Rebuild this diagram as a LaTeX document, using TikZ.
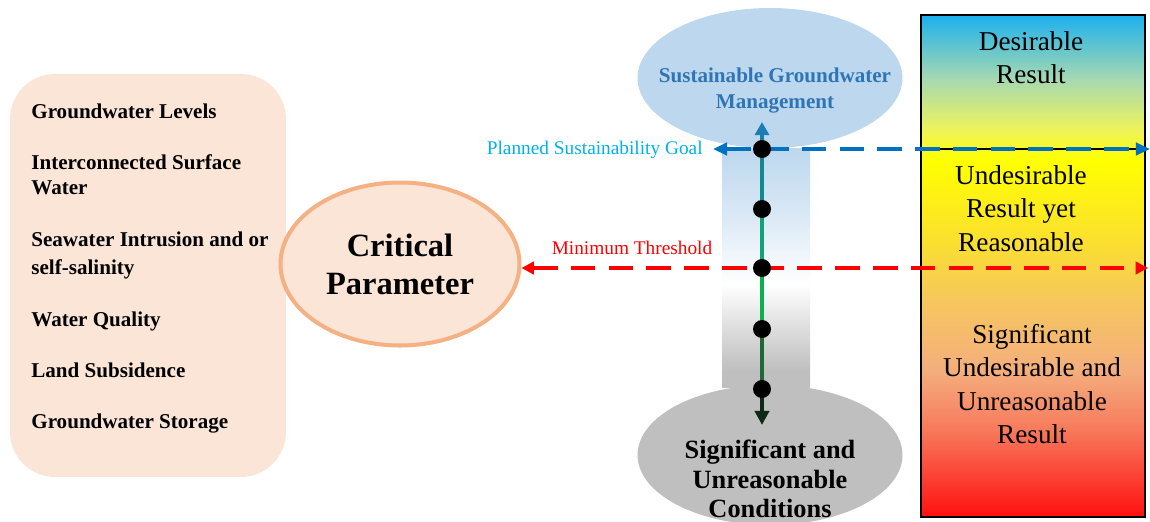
\documentclass[tikz,border=0pt]{standalone}
\usepackage{fontspec}
\setmainfont{Liberation Serif}
\usetikzlibrary{arrows.meta,shapes.geometric,positioning}
\definecolor{peach}{HTML}{FBE5D6}
\definecolor{peachline}{HTML}{F4B183}
\definecolor{skyfill}{HTML}{BDD7EE}
\definecolor{skypale}{HTML}{DCEAF6}
\definecolor{skytext}{HTML}{2E75B6}
\definecolor{goalblue}{HTML}{0070C0}
\definecolor{goaltext}{HTML}{00B0F0}
\definecolor{greyfill}{HTML}{BFBFBF}
\definecolor{greypale}{HTML}{D9D9D9}
% colour stops of the result bar
\definecolor{barcyan}{HTML}{1CB0EE}
\definecolor{barmint}{HTML}{A8DAB0}
\definecolor{barlime}{HTML}{EEF45A}
\definecolor{baryellow}{HTML}{FFFF00}
\definecolor{bargold}{HTML}{FBE02E}
\definecolor{barorange}{HTML}{F6C75C}
\definecolor{barsalmon}{HTML}{F4AE7E}
\definecolor{barcoral}{HTML}{F77A5C}
\definecolor{barred}{HTML}{FF1010}
% colours along the arrow
\definecolor{arrtop}{HTML}{1C7DB3}
\definecolor{arrA}{HTML}{0F8A8E}
\definecolor{arrB}{HTML}{10A27A}
\definecolor{arrC}{HTML}{0DB04E}
\definecolor{arrD}{HTML}{1D6A38}
\definecolor{arrbot}{HTML}{0D2A17}
\pgfdeclareverticalshading{resultbar}{100bp}{color(0bp)=(barred); color(25bp)=(barred); color(33.7bp)=(barcoral); color(39.6bp)=(barsalmon); color(46.6bp)=(barorange); color(52.6bp)=(bargold); color(60.5bp)=(baryellow); color(63.5bp)=(barlime); color(68.5bp)=(barmint); color(75bp)=(barcyan); color(100bp)=(barcyan)}
\pgfdeclareverticalshading{shaftfade}{100bp}{color(0bp)=(greyfill); color(25bp)=(greyfill); color(28.5bp)=(greyfill); color(36bp)=(greypale); color(46.5bp)=(white); color(60bp)=(skypale); color(75bp)=(skyfill); color(100bp)=(skyfill)}
\begin{document}
\begin{tikzpicture}[x=0.02cm,y=-0.02cm,
  item/.style={anchor=west,inner sep=0pt,text height=8.5pt,text depth=2.6pt,font=\fontsize{12}{14.4}\selectfont\bfseries},
  result/.style={inner sep=0pt,align=center,font=\fontsize{15.5}{19}\selectfont},
  cloud/.style={ellipse,inner sep=0pt,minimum width=5.3cm,minimum height=2.8cm},
  dot/.style={circle,fill=black,inner sep=0pt,minimum size=0.36cm},
  dashline/.style={line width=2.3pt,dash pattern=on 14pt off 7.5pt},
  seg/.style={line width=2.2pt}]
\clip (0,0) rectangle (1150,521);

% parameters
\node[rounded corners=0.9cm,fill=peach,minimum width=5.52cm,minimum height=8.06cm,inner sep=0pt] (params) at (148,275.5) {};
\foreach \y/\t [count=\n] in {113.5/Groundwater Levels,164.5/Interconnected Surface,189.5/Water,241.5/Seawater Intrusion and or,269.5/self-salinity,321.5/Water Quality,372.5/Land Subsidence,423.5/Groundwater Storage}
  \node[item] (item-\n) at (31,\y) {\t};

\node[ellipse,draw=peachline,line width=2.3pt,fill=peach,minimum width=4.78cm,minimum height=3.26cm,inner sep=0pt,align=center,font=\fontsize{18.5}{21.5}\selectfont\bfseries] (crit) at (400,264) {Critical\\Parameter};

% shaft and the two clouds
\path[shade,shading=shaftfade] (722,148) rectangle (810,387);
\node[cloud,fill=skyfill] (topcloud) at (770,78) {};
\node[text=skytext,align=center,inner sep=0pt,font=\fontsize{12}{14.4}\selectfont\bfseries] (toplabel) at (775,90.5) {Sustainable Groundwater\\Management};
\node[cloud,fill=greyfill] (botcloud) at (770,455) {};
\node[align=center,inner sep=0pt,font=\fontsize{15}{16.8}\selectfont\bfseries] (botlabel) at (770,479) {Significant and\\Unreasonable\\Conditions};

% result bar
\node[draw=black,line width=0.9pt,shade,shading=resultbar,minimum width=4.48cm,minimum height=10.04cm,inner sep=0pt] (bar) at (1033,266) {};
\draw[line width=0.6pt] (921,149) -- (1145,149);
\node[result] (res-1) at (1031,57.5) {Desirable\\Result};
\node[result] (res-2) at (1021,208.5) {Undesirable\\Result yet\\Reasonable};
\node[result] (res-3) at (1032,384) {Significant\\Undesirable and\\Unreasonable\\Result};

% levels
\foreach \y [count=\n] in {149,209,268,329,389}
  \coordinate (p\n) at (762,\y);
\coordinate (up) at (762,122);
\coordinate (down) at (762,425);
\coordinate (goalend) at (1150,149);
\coordinate (minend) at (1148,268);

\node[text=goaltext,anchor=east,inner sep=0.2cm,font=\fontsize{11}{13}\selectfont] (goal) at (713,150) {Planned Sustainability Goal};
\node[text=red,inner sep=0pt,font=\fontsize{11}{13}\selectfont] (minlabel) at (632,248) {Minimum Threshold};

\draw[seg,arrtop,-{Triangle[length=7.5pt,width=8pt]}] (p1) -- (up);
\draw[seg,arrA] (p1) -- (p2);
\draw[seg,arrB] (p2) -- (p3);
\draw[seg,arrC] (p3) -- (p4);
\draw[seg,arrD] (p4) -- (p5);
\draw[seg,arrbot,-{Triangle[length=8pt,width=8pt]}] (p5) -- (down);

\draw[dashline,goalblue,{Triangle[length=8pt,width=7pt]}-{Triangle[length=8pt,width=7pt]}] (goalend -| goal.east) -- (goalend);
\draw[dashline,red,{Triangle[length=7pt,width=7pt]}-{Triangle[length=7pt,width=7pt]}] (minend -| crit.east) -- (minend);

\foreach \n in {1,...,5}
  \node[dot] (dot-\n) at (p\n) {};
\end{tikzpicture}
\end{document}
